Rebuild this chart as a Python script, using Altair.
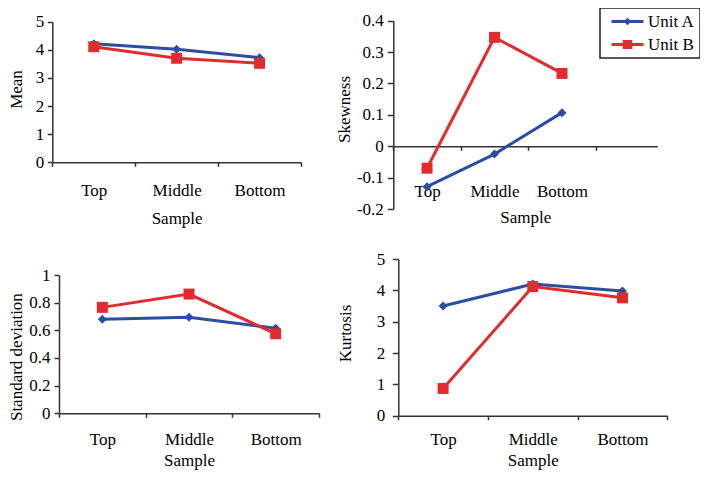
import altair as alt
import pandas as pd

samples = ["Top", "Middle", "Bottom"]
units = ["Unit A", "Unit B"]

mean_a = [4.22, 4.02, 3.72]
mean_b = [4.11, 3.70, 3.52]
skew_a = [-0.129, -0.025, 0.107]
skew_b = [-0.07, 0.347, 0.232]
sd_a = [0.68, 0.695, 0.615]
sd_b = [0.766, 0.862, 0.575]
kurt_a = [3.50, 4.20, 3.98]
kurt_b = [0.87, 4.12, 3.76]

colors = ["#2B4DA3", "#E22B2F"]
FONT = "Liberation Serif"
FS = 17
AX = "#333333"


def make_df(a, b):
    rows = []
    for u, vals in zip(units, [a, b]):
        for i, (s, v) in enumerate(zip(samples, vals)):
            rows.append({"sample": s, "unit": u, "value": v, "idx": i})
    return pd.DataFrame(rows)


def label_expr():
    return ("datum.value == 0 ? '0' : (datum.value < 0 ? '-' : '') + "
            "format(abs(datum.value), '~g')")


def panel(a, b, ytitle, xrange, yrange, ydomain, yvalues, pad_outer,
          x_off, y_off, xlab_pad, xtitle_y, ytitle_x, ytitle_y,
          ylab_pad, ytick):
    df = make_df(a, b)
    xscale = alt.Scale(type="band", domain=samples, range=xrange,
                       paddingInner=0, paddingOuter=pad_outer, align=0)
    xaxis = alt.Axis(orient="bottom", offset=x_off, title="Sample",
                     tickBand="extent", ticks=True, tickSize=4,
                     tickColor=AX, tickWidth=1.5, domainColor=AX,
                     domainWidth=1.5, grid=False, labelAngle=0,
                     labelFont=FONT, labelFontSize=FS, labelColor="black",
                     labelBaseline="alphabetic", labelPadding=xlab_pad,
                     titleFont=FONT, titleFontSize=FS,
                     titleFontWeight="normal", titleColor="black",
                     titleBaseline="alphabetic", titleY=xtitle_y)
    yscale = alt.Scale(domain=ydomain, range=yrange, nice=False, zero=False)
    yaxis = alt.Axis(orient="left", offset=y_off, title=ytitle,
                     values=yvalues, labelExpr=label_expr(),
                     ticks=True, tickSize=ytick, tickColor=AX, tickWidth=1.5,
                     domainColor=AX, domainWidth=1.5, grid=False,
                     labelFont=FONT, labelFontSize=FS, labelColor="black",
                     labelPadding=ylab_pad, labelBaseline="middle",
                     titleFont=FONT, titleFontSize=FS,
                     titleFontWeight="normal", titleColor="black",
                     titleBaseline="alphabetic", titleX=ytitle_x,
                     titleY=ytitle_y)
    x = alt.X("sample:N", sort=samples, scale=xscale, axis=xaxis)
    y = alt.Y("value:Q", scale=yscale, axis=yaxis)
    color = alt.Color("unit:N", scale=alt.Scale(domain=units, range=colors),
                      legend=None)
    base = alt.Chart(df)
    line = base.mark_line(strokeWidth=3).encode(
        x=x, y=y, color=color, order=alt.Order("idx:Q"))
    pts = base.mark_point(filled=True, opacity=1).encode(
        x=x, y=y, color=color,
        shape=alt.Shape("unit:N", scale=alt.Scale(domain=units,
                                                  range=["diamond", "square"]),
                        legend=None),
        size=alt.Size("unit:N", scale=alt.Scale(domain=units, range=[81, 121]),
                      legend=None))
    return alt.layer(line, pts)


H = 462

p1 = panel(mean_a, mean_b, "Mean", [44.3, 293], [154.3, 13.7], [0, 5],
           [0, 1, 2, 3, 4, 5], 0, -(H - 154.3), -44.3, 28.7, 60.7,
           -31.0, 81, 3.5, 5)
p2 = panel(skew_a, skew_b, "Skewness", [385.3, 649.3], [201, 12.7],
           [-0.2, 0.4], [-0.2, -0.1, 0, 0.1, 0.2, 0.3, 0.4], 0.456,
           -(H - 138.3), -385.3, 45.7, 76.4, -44.3, 101, 4, 6)
p3 = panel(sd_a, sd_b, "Standard deviation", [51, 311], [405.3, 267], [0, 1],
           [0, 0.2, 0.4, 0.6, 0.8, 1], 0, -(H - 405.3), -51, 27.4, 52.5,
           -37.5, 348.6, 4, 5)
p4 = panel(kurt_a, kurt_b, "Kurtosis", [390.3, 659.3], [407.7, 251], [0, 5],
           [0, 1, 2, 3, 4, 5], 0, -(H - 407.7), -390.3, 24.3, 50.0,
           -48.3, 325, 7.5, 6)

path_a = "M-2.13,-0.2H2.13V0.2H-2.13Z M0,-0.5L0.5,0L0,0.5L-0.5,0Z"
path_b = "M-2.13,-0.2H2.13V0.2H-2.13Z M-0.64,-0.6H0.64V0.6H-0.64Z"

leg = alt.Legend(title=None, orient="none", legendX=592, legendY=0,
                 padding=5, strokeColor="#222222", fillColor="white",
                 labelFont=FONT, labelFontSize=FS, labelColor="black",
                 symbolSize=225, symbolOffset=14, labelOffset=12,
                 rowPadding=5, symbolStrokeWidth=0, symbolOpacity=1)

legend_df = pd.DataFrame({"unit": units})
legend_layer = alt.Chart(legend_df).mark_point(filled=True, clip=True).encode(
    x=alt.value(-200), y=alt.value(-200),
    color=alt.Color("unit:N", scale=alt.Scale(domain=units, range=colors),
                    legend=leg),
    shape=alt.Shape("unit:N", scale=alt.Scale(domain=units,
                                              range=[path_a, path_b]),
                    legend=leg),
)

chart = alt.layer(p1, p2, p3, p4, legend_layer).resolve_scale(
    x="independent", y="independent", shape="independent",
    size="independent", color="independent"
).properties(
    width=692, height=462, padding=0,
    autosize=alt.AutoSizeParams(type="none"),
    background="white",
).configure_view(stroke=None).configure_legend(strokeWidth=1.5)

chart.save("out.html", embed_options={"renderer": "svg", "actions": False})
